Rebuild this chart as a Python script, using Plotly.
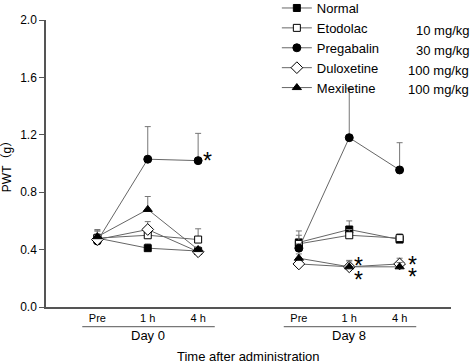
import plotly.graph_objects as go

# ---- data ----
time_labels = ["Pre", "1 h", "4 h"]
day_labels = ["Day 0", "Day 8"]
day0_x = [0, 1, 2]
day8_x = [4, 5, 6]

series_names = ["Normal", "Etodolac", "Pregabalin", "Duloxetine", "Mexiletine"]
doses = ["", "10 mg/kg", "30 mg/kg", "100 mg/kg", "100 mg/kg"]

normal_d0 = [0.48, 0.41, 0.39]
normal_d8 = [0.45, 0.54, 0.47]
etodolac_d0 = [0.48, 0.50, 0.47]
etodolac_d8 = [0.44, 0.50, 0.48]
pregabalin_d0 = [0.46, 1.03, 1.02]
pregabalin_d8 = [0.41, 1.18, 0.955]
duloxetine_d0 = [0.47, 0.54, 0.385]
duloxetine_d8 = [0.30, 0.28, 0.30]
mexiletine_d0 = [0.49, 0.68, 0.40]
mexiletine_d8 = [0.34, 0.28, 0.28]

# upper SEM
normal_e0 = [0.06, 0.03, 0.02]
normal_e8 = [0.05, 0.06, 0.03]
etodolac_e0 = [0.05, 0.04, 0.075]
etodolac_e8 = [0.09, 0.04, 0.03]
pregabalin_e0 = [0.03, 0.227, 0.19]
pregabalin_e8 = [0.03, 0.345, 0.19]
duloxetine_e0 = [0.04, 0.055, 0.02]
duloxetine_e8 = [0.02, 0.045, 0.04]
mexiletine_e0 = [0.04, 0.09, 0.02]
mexiletine_e8 = [0.03, 0.04, 0.03]

# significance marks: (x, y)
star_x = [2.18, 5.18, 5.18, 6.25, 6.25]
star_y = [1.06, 0.33, 0.228, 0.334, 0.25]

marker_styles = [
    ("square", "black", 7),
    ("square", "white", 7),
    ("circle", "black", 8),
    ("diamond", "white", 9),
    ("triangle-up", "black", 8),
]

values = [
    (normal_d0, normal_d8, normal_e0, normal_e8),
    (etodolac_d0, etodolac_d8, etodolac_e0, etodolac_e8),
    (pregabalin_d0, pregabalin_d8, pregabalin_e0, pregabalin_e8),
    (duloxetine_d0, duloxetine_d8, duloxetine_e0, duloxetine_e8),
    (mexiletine_d0, mexiletine_d8, mexiletine_e0, mexiletine_e8),
]

FONT = "Liberation Sans, Noto Sans CJK JP, sans-serif"
fig = go.Figure()

gap_x = (day0_x[-1] + day8_x[0]) / 2
for name, (sym, fill, size), (d0, d8, e0, e8) in zip(series_names, marker_styles, values):
    xs = day0_x + [gap_x] + day8_x
    ys = d0 + [None] + d8
    es = e0 + [0] + e8
    fig.add_trace(go.Scatter(
        x=xs, y=ys, name=name, mode="lines+markers",
        line=dict(color="#666666", width=1),
        marker=dict(symbol=sym, size=size, color=fill,
                    line=dict(color="black", width=1)),
        error_y=dict(type="data", array=es, arrayminus=[0] * len(es),
                     symmetric=False, color="#777777", thickness=1, width=3),
        connectgaps=False,
    ))

for sx, sy in zip(star_x, star_y):
    fig.add_annotation(x=sx, y=sy, text="*", showarrow=False,
                       font=dict(size=23, color="black", family=FONT),
                       xanchor="center", yanchor="middle", yshift=-6)

# x-axis group labels
tick_vals = day0_x + day8_x
tick_text = time_labels + time_labels
for xs, lab in zip([day0_x, day8_x], day_labels):
    fig.add_shape(type="line", xref="x", yref="paper",
                  x0=xs[0] - 0.3, x1=xs[-1] + 0.33, y0=-0.0686, y1=-0.0686,
                  line=dict(color="#777777", width=1.2))
    fig.add_annotation(x=(xs[0] + xs[-1]) / 2, y=-0.1, xref="x", yref="paper",
                       text=lab, showarrow=False, yanchor="middle",
                       font=dict(size=13, color="black", family=FONT))

fig.add_annotation(x=0.5, y=-0.172, xref="paper", yref="paper",
                   text="Time after administration", showarrow=False,
                   yanchor="middle",
                   font=dict(size=13, color="black", family=FONT))

# doses next to legend rows
row0_px = 11.0
row_step_px = 19.7
for i, d in enumerate(doses):
    if d:
        py = row0_px + i * row_step_px
        fig.add_annotation(x=(471 - 46) / 405, y=(307 - py) / 287,
                           xref="paper", yref="paper",
                           text=d, showarrow=False, xanchor="right", yanchor="middle",
                           font=dict(size=13, color="black", family=FONT))

fig.update_layout(
    width=474, height=361,
    margin=dict(l=46, r=23, t=20, b=54, autoexpand=False),
    paper_bgcolor="white", plot_bgcolor="white",
    font=dict(family=FONT, size=12, color="black"),
    showlegend=True,
    legend=dict(x=0.57, y=1.094, xanchor="left", yanchor="top",
                bgcolor="rgba(0,0,0,0)", font=dict(size=13, family=FONT),
                itemwidth=30, tracegroupgap=0),
    xaxis=dict(range=[-1.02, 7.02], tickvals=tick_vals, ticktext=tick_text,
               showgrid=False, zeroline=False, showline=True, automargin=False,
               linecolor="#555555", linewidth=1.5, ticks="",
               tickfont=dict(size=11, family=FONT)),
    yaxis=dict(range=[0, 2.0], tickvals=[0, 0.4, 0.8, 1.2, 1.6, 2.0],
               tickformat=".1f", showgrid=False, zeroline=False, automargin=False,
               showline=True, linecolor="#555555", linewidth=1.5,
               ticks="outside", ticklen=5, tickcolor="#555555",
               tickfont=dict(size=12, family=FONT),
               title=dict(text="PWT（g）", font=dict(size=12, family=FONT), standoff=6)),
)

fig.write_html("out.html", config={"displayModeBar": False},
               post_script="document.body.style.margin='0';document.body.style.overflow='hidden';")
